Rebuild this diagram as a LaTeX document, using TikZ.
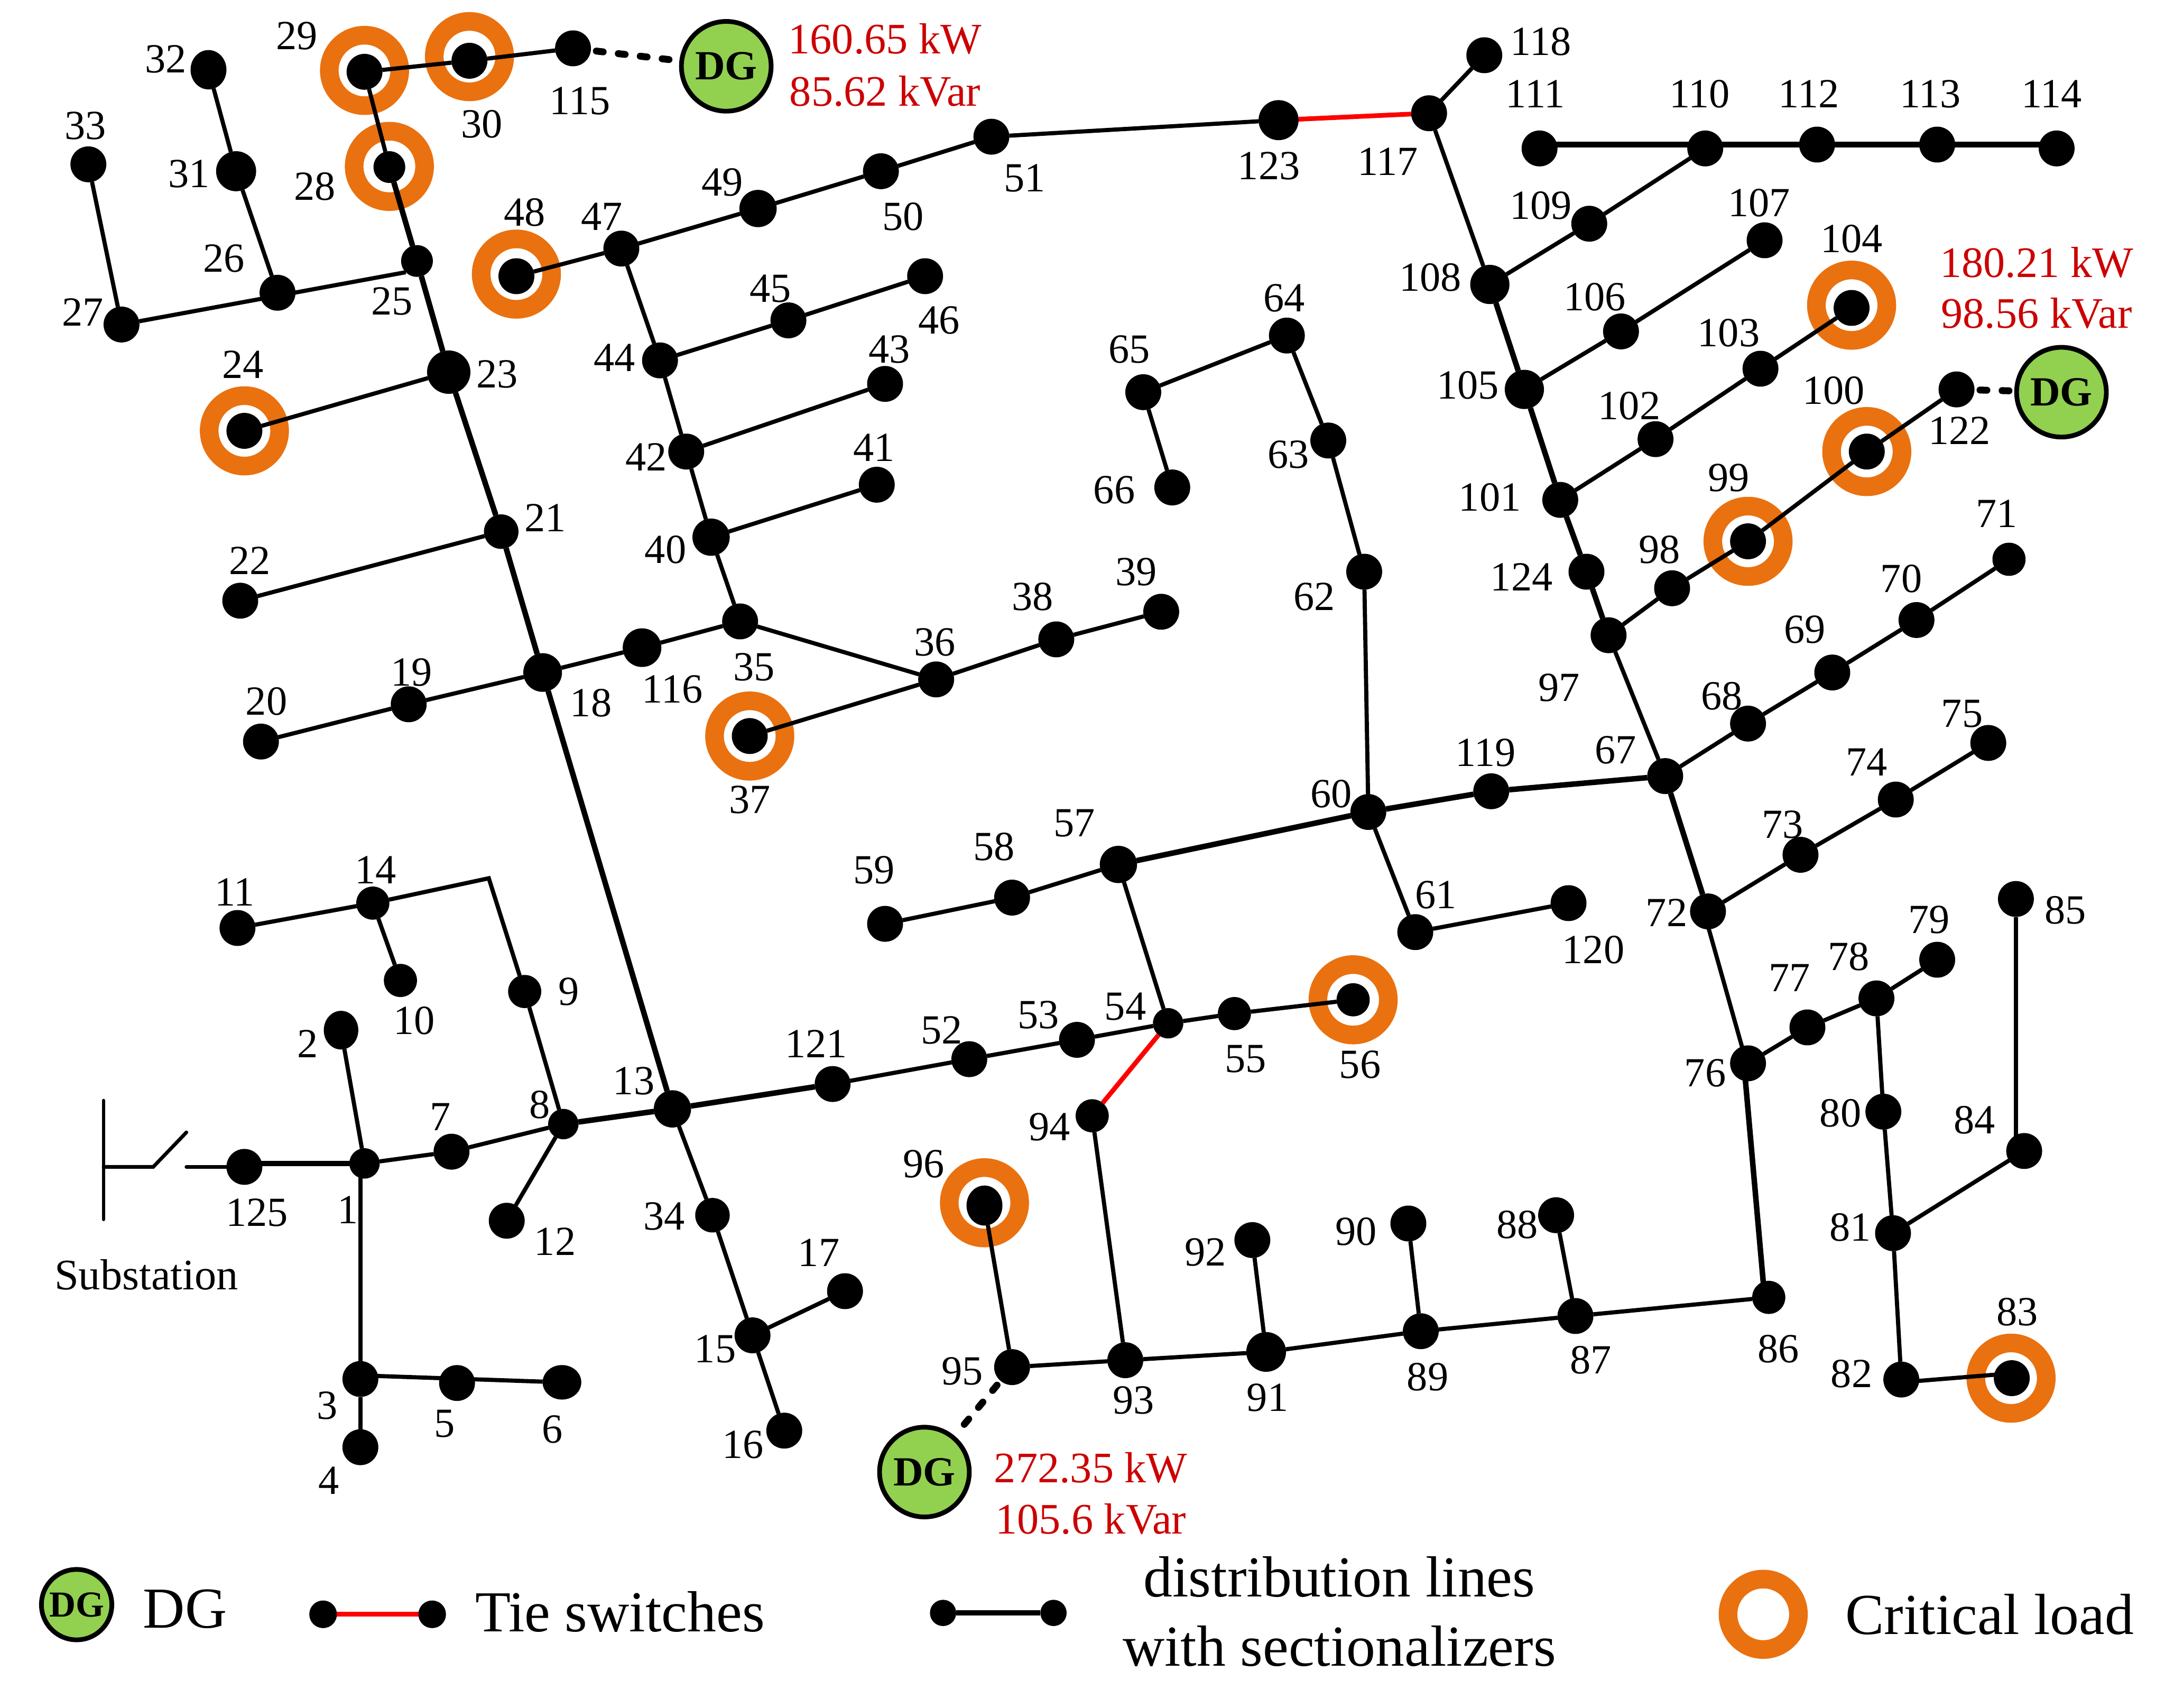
\documentclass[tikz,border=0pt]{standalone}
\usepackage{fontspec}
\setmainfont{Liberation Serif}
\usetikzlibrary{shapes.geometric}
\definecolor{ringc}{HTML}{EA710F}
\definecolor{dgc}{HTML}{92D050}
\definecolor{redt}{HTML}{CC0000}
\tikzset{
  bus/.style={circle,fill=black,inner sep=0pt,outer sep=0pt,draw=none},
  ring/.style={circle,draw=ringc,fill=white,line width=13.5pt,minimum size=51pt,inner sep=0pt},
  lin/.style={line width=3pt,black},
  heavy/.style={line width=4pt,black},
  thinl/.style={line width=2.6pt,black,line cap=round},
  tie/.style={line width=3.4pt,red},
  dgline/.style={line width=5pt,black,line cap=round,dash pattern=on 5pt off 11pt,shorten <=4pt,shorten >=3pt},
  num/.style={inner sep=0pt,font=\fontsize{30}{30}\selectfont},
  redlab/.style={inner sep=0pt,text=redt,font=\fontsize{31.5}{31.5}\selectfont},
  leg/.style={inner sep=0pt,font=\fontsize{42}{42}\selectfont},
  dg/.style={circle,draw=black,fill=dgc,line width=3.4pt,minimum size=65pt,inner sep=0pt,font=\fontsize{30}{30}\selectfont\bfseries},
  dgs/.style={circle,draw=black,fill=dgc,line width=3.4pt,minimum size=51pt,inner sep=0pt,font=\fontsize{26.5}{26.5}\selectfont\bfseries},
}
\begin{document}
\begin{tikzpicture}[x=1pt,y=-1pt]
\useasboundingbox (0,0) rectangle (1568,1236.6);
% rings
\foreach \n/\x/\y in {24/177/312,28/282/120.5,29/264/51,30/340/41,37/543/533,48/374/198.5,56/980/724,83/1456.5/998,96/713/871,99/1266/392,100/1352/327,104/1341/221}
  \node[ring] (r\n) at (\x,\y) {};
\node[ring] (rleg) at (1277,1169) {};
% buses
\foreach \n/\x/\y/\r in {1/264/842.5/11,3/261/998.6/13,4/261/1048/13,5/331/1001.5/13,7/327/834/13,8/408/814/11,9/380/718/12,10/290/710/12,11/172/672/13,12/367/884/13,13/487/803/13.5,14/270/654/12,15/545/967/13,16/568/1036/13,17/612/935/13,18/393/487/14,19/296/510/13,20/189/537/13,21/363/385/12.5,22/174/435/13,23/325/269.5/15.7,24/177/312/13,25/302/189/11.5,26/201/212/13,27/88/235/13,28/282/121/11.5,29/264/52/13,30/340/44/13,31/171/124/14.5,33/64/119/13,34/516/880/12.5,35/536/450/13,36/678/492/13,37/543/533/13,38/765/463/13,39/841/443/13,40/515/389/13.5,41/635/351/13,42/497/327/13,43/641/278/13,44/478/261/13,45/571/232/13,46/670/200/13,47/450/180/13,48/374/200/13,49/549/151/13.5,50/638/124/13,51/718/99/13,52/702/767/13,53/780/753/13,54/846/741/11,55/894/734/12,56/980/724/12,57/810/626/13.5,58/733/650/13,59/641/669/13,60/991/588/13,61/1025/675/13,62/988/414/13,63/962/319/13,64/932/243/13,65/828/284/13,66/849/353/13,67/1206/562/13,68/1266/524/13,69/1327/487/13,70/1388/449/13,71/1455/405/12,72/1237/660/13,73/1304/619/13,74/1373/579/13,75/1440/538/13,76/1266/770/13,77/1309/744/13,78/1359/723/13,79/1403/695/13,80/1364/805/13,81/1371/893/13,82/1377/999/13,83/1457/998/13,84/1466/833.5/13,85/1460/651/13,86/1281/939.5/12,87/1141/953/13,88/1127/880/13,89/1029/964/13,90/1020/886/13,91/917/979/14.4,92/907/898/13,93/815/985/13,94/791/808/12,95/733/990/13,97/1165/460/13,98/1211/426/13,99/1266/392/13,100/1352/327/13,101/1130/362/13,102/1199/318/13,103/1275/267/13,104/1341/223/13,105/1104/282/14.2,106/1174/240/13,107/1278/174/13,108/1079/206/14.2,109/1151/162/13,110/1235/107.5/13,111/1115/107.5/13,112/1316/104.7/13,113/1403/104.7/13,114/1489.5/107.5/13,115/415/35/13,116/465/469/14,117/1035/82/13,118/1075/40/13,119/1080/573/13,120/1136/654/13,121/603/785/13,122/1417/282/13,123/926/87/14.5,124/1149/414/13,125/177/845/13}
  \node[bus,minimum size=2*\r pt] (n\n) at (\x,\y) {};
\node[bus,ellipse,minimum width=25pt,minimum height=28pt] (n2) at (247,746) {};
\node[bus,ellipse,minimum width=28pt,minimum height=25pt] (n6) at (407,1001) {};
\node[bus,ellipse,minimum width=26pt,minimum height=28.5pt] (n32) at (151,50.5) {};
\node[bus,ellipse,minimum width=26pt,minimum height=29pt] (n96) at (713,873) {};
% DG
\node[dg] (dga) at (526,48) {DG};
\node[dg] (dgb) at (1493,284) {DG};
\node[dg] (dgc) at (669.5,1066) {DG};
\coordinate (bend) at (354,636);
% edges
\foreach \a/\b in {1/2,1/7,7/8,8/12,8/9,14/11,14/10,3/4,13/34,34/15,15/17,15/16,18/19,19/20,21/22,23/24,27/33,26/31,31/32,28/29,29/30,30/115,18/116,116/35,35/36,36/37,36/38,38/39,35/40,40/41,40/42,42/43,42/44,44/45,45/46,44/47,47/48,47/49,49/50,50/51,51/123,117/118,117/108,108/109,109/110,105/106,106/107,101/102,102/103,103/104,97/98,98/99,99/100,100/122,97/67,67/68,68/69,69/70,70/71,72/73,73/74,74/75,76/77,77/78,78/79,78/80,80/81,81/84,81/82,86/87,87/88,87/89,89/90,89/91,91/92,91/93,93/94,93/95,95/96,121/52,52/53,53/54,54/55,55/56,54/57,57/58,58/59,60/61,61/120,60/62,62/63,63/64,64/65,65/66}
  \draw[lin] (n\a) -- (n\b);
\foreach \a/\b in {8/13,13/18,18/21,21/23,23/25,25/28,13/121,108/105,105/101,101/124,124/97,57/60,60/119,119/67,67/72}
  \draw[heavy] (n\a) -- (n\b);
\draw[heavy] (n125 |- n1) -- (n1);
\draw[lin] (n3) -- (n3 |- n1);
\draw[lin] ([yshift=2.6pt]n3.center) -- (n6);
\draw[lin] (n9) -- (bend) -- (n14);
\draw[lin] (n27) -- (n25.south west);
\draw[lin] (n85) -- (n85 |- n84);
\draw[heavy] (n111 |- n112) -- (n114 |- n112);
\draw[lin] ([xshift=-3pt]n72.center) -- ([xshift=-1pt]n76.center);
\draw[heavy] ([xshift=-3pt]n76.center) -- ([xshift=-3pt]n86.center);
\draw[lin] ([yshift=-2pt]n82.center) -- ([yshift=3.5pt]n83.center);
\draw[tie] (n123) -- (n117);
\draw[tie] (n94) -- (n54);
\draw[dgline] (n115) -- (dga);
\draw[dgline] (n122) -- (dgb);
\draw[dgline] (n95) -- (dgc);
% substation
\coordinate (sa) at (75,797);
\coordinate (sb) at (75,883);
\coordinate (sc) at (75,845);
\coordinate (sd) at (111,845);
\coordinate (se) at (135,820);
\coordinate (sf) at (135,845);
\draw[thinl] (sa) -- (sb);
\draw[thinl] (sc) -- (sd) -- (se);
\draw[thinl] (sf) -- (n125);
\node[inner sep=0pt,font=\fontsize{31.5}{31.5}\selectfont] (subst) at (106,923) {Substation};
% labels
\foreach \n/\x/\y in {1/252/876,2/223/756,3/237/1018,4/238/1072,5/322/1031,6/400/1035,7/319/809,8/391/800,9/412/718,10/300/739,11/170/646,12/402/899,13/459/783,14/272/630,15/518/977,16/538/1046,17/593/907,18/428/509,19/298/487,20/193/508,21/395/375,22/181/406,23/360/271,24/176/264,25/284/218,26/162/187,27/60/226,28/228/135,29/215/26,30/349/90,31/137/126,32/120/43,33/62/91,34/481/881,35/546/483,36/677/465,37/543/579,38/748/432,39/823/414,40/482/398,41/633/324,42/468/331,43/644/253,44/445/259,45/558/209,46/680/232,47/436/157,48/380/154,49/523/132,50/654/157,51/742/129,52/682/746,53/752/735,54/815/729,55/902/767,56/985/771,57/778/596,58/720/613,59/633/630,60/964/575,61/1040/648,62/952/432,63/933/329,64/930/216,65/818/253,66/807/355,67/1170/543,68/1247/504,69/1307/456,70/1377/419,71/1446/372,72/1207/661,73/1291/597,74/1352/552,75/1421/517,76/1235/777,77/1296/708,78/1339/693,79/1397/666,80/1333/806,81/1340/889,82/1341/995,83/1461/950,84/1430/811,85/1496/659,86/1288/977,87/1152/985,88/1099/887,89/1034/997,90/982/892,91/918/1012,92/873/907,93/821/1014,94/760/816,95/697/993,96/669/843,97/1129/498,98/1202/398,99/1252/346,100/1328/283,101/1079/360,102/1180/294,103/1252/241,104/1341/173,105/1063/279,106/1155/215,107/1274/147,108/1036/201,109/1116/149,110/1231/68,111/1112/68,112/1310/68,113/1398/68,114/1486/68,115/420/73,116/487/499,117/1005/117,118/1116/30,119/1076/545,120/1154/688,121/591/756,122/1419/312,123/919/120,124/1102/418,125/186/878}
  \node[num] (l\n) at (\x,\y) {\n};
% red values
\node[redlab] (pa) at (641,28) {160.65 kW};
\node[redlab] (qa) at (641,66) {85.62 kVar};
\node[redlab] (pb) at (1475,190) {180.21 kW};
\node[redlab] (qb) at (1475,227) {98.56 kVar};
\node[redlab] (pc) at (790,1063) {272.35 kW};
\node[redlab] (qc) at (790,1100) {105.6 kVar};
% legend
\node[dgs] (legdg) at (55.5,1162) {DG};
\node[leg] (legdgt) at (134,1165) {DG};
\node[bus,minimum size=20pt] (ta) at (234,1169) {};
\node[bus,minimum size=20pt] (tb) at (313,1169) {};
\draw[tie] (ta) -- (tb);
\node[leg] (legtie) at (449,1167) {Tie switches};
\node[bus,minimum size=19pt] (da) at (683,1168) {};
\node[bus,minimum size=19pt] (db) at (763,1168) {};
\draw[heavy] (da) -- (db);
\node[leg] (legd1) at (970,1142) {distribution lines};
\node[leg] (legd2) at (970,1192) {with sectionalizers};
\node[leg] (legcl) at (1441,1169) {Critical load};
\end{tikzpicture}
\end{document}
